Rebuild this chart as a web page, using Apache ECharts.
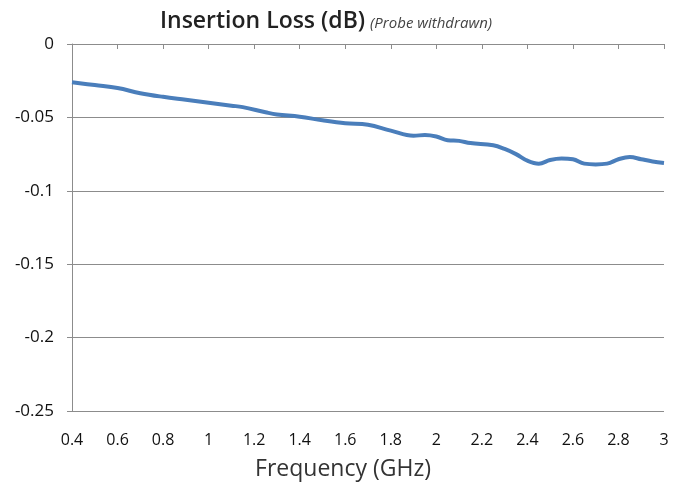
<!DOCTYPE html>
<html lang="en">
<head>
  <meta charset="UTF-8">
  <title>Insertion Loss</title>
  <style>
    html, body { margin: 0; padding: 0; background: #fff; }
    #chart { width: 682px; height: 482px; }
  </style>
  <script src="https://cdn.jsdelivr.net/npm/echarts@6/dist/echarts.min.js"></script>
</head>
<body>
  <div id="chart"></div>
  <script>
    // frequency (GHz) and insertion loss (dB)
    var freq = [0.4, 0.5, 0.6, 0.7, 0.8, 0.9, 1.0, 1.1, 1.15, 1.25, 1.3, 1.4, 1.5, 1.6, 1.7,
      1.8, 1.9, 1.95, 2.0, 2.05, 2.1, 2.15, 2.25, 2.3, 2.35, 2.4, 2.45, 2.5, 2.55, 2.6,
      2.65, 2.7, 2.75, 2.8, 2.85, 2.9, 2.95, 3.0];
    var loss = [-0.026, -0.028, -0.030, -0.0335, -0.036, -0.038, -0.040, -0.042, -0.043, -0.0465,
      -0.048, -0.0495, -0.052, -0.054, -0.055, -0.059, -0.0625, -0.062, -0.063, -0.0655,
      -0.066, -0.0675, -0.069, -0.0715, -0.075, -0.0795, -0.0815, -0.079, -0.078, -0.0785,
      -0.0815, -0.082, -0.0815, -0.0785, -0.077, -0.0785, -0.080, -0.081];

    var chart = echarts.init(document.getElementById('chart'));
    var gray = '#8c8c8c';

    chart.setOption({
      animation: false,
      title: {
        text: '{a|Insertion Loss (dB)} {b|(Probe withdrawn)}',
        left: 155,
        top: 5,
        textStyle: {
          rich: {
            a: { fontFamily: 'Open Sans', fontWeight: 600, fontSize: 23, color: '#222' },
            b: { fontFamily: 'Open Sans', fontStyle: 'italic', fontWeight: 'normal', fontSize: 15, color: '#444', padding: [4, 0, 0, 0] }
          }
        }
      },
      grid: { left: 72, right: 18, top: 44, bottom: 71, outerBoundsMode: 'none' },
      xAxis: {
        type: 'value',
        min: 0.4,
        max: 3,
        interval: 0.2,
        name: 'Frequency (GHz)',
        nameLocation: 'middle',
        nameGap: 47,
        nameTextStyle: { fontFamily: 'Open Sans', fontSize: 23, color: '#333', padding: [0, 50, 0, 0] },
        axisLine: { lineStyle: { color: gray } },
        axisTick: { show: true, length: 5, lineStyle: { color: gray } },
        splitLine: { show: false },
        axisLabel: {
          margin: 21,
          fontFamily: 'Open Sans',
          fontSize: 16,
          color: '#111',
          formatter: function (v) { return String(Math.round(v * 10) / 10); }
        }
      },
      yAxis: {
        type: 'value',
        min: -0.25,
        max: 0,
        interval: 0.05,
        axisLine: { show: true, lineStyle: { color: gray } },
        axisTick: { show: true, length: 5, lineStyle: { color: gray } },
        splitLine: { show: true, lineStyle: { color: gray, width: 1 } },
        axisLabel: {
          margin: 18,
          fontFamily: 'Open Sans',
          fontSize: 17,
          color: '#111',
          formatter: function (v) { return String(Math.round(v * 100) / 100); }
        }
      },
      series: [{
        type: 'line',
        data: freq.map(function (f, i) { return [f, loss[i]]; }),
        smooth: 0.4,
        showSymbol: false,
        lineStyle: { color: '#4a7ebb', width: 4 }
      }]
    });
  </script>
</body>
</html>
